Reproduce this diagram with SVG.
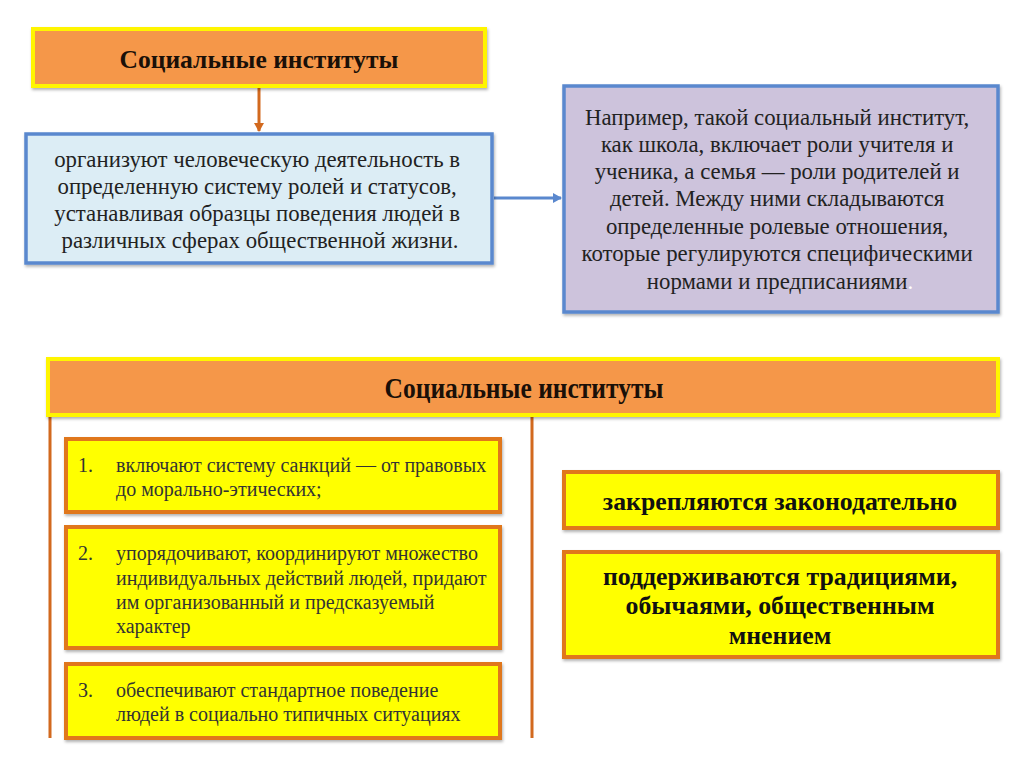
<svg xmlns="http://www.w3.org/2000/svg" width="1024" height="767" viewBox="0 0 1024 767">
<defs>
<style>
.hdr{fill:#F59748;stroke:#FFF500;stroke-width:4}
.blue{fill:#DCEDF5;stroke:#5A88CE;stroke-width:3.5}
.purple{fill:#CDC3DC;stroke:#5A88CE;stroke-width:3.5}
.yel{fill:#FFFF00;stroke:#E0771E;stroke-width:4}
.ht{font-family:"Liberation Serif",serif;font-weight:bold;font-size:25.5px;fill:#1a1008;text-anchor:middle}
.bt{font-family:"Liberation Serif",serif;font-size:22.8px;fill:#222;text-anchor:middle}
.lt{font-family:"Liberation Serif",serif;font-size:20px;fill:#333}
.rt{font-family:"Liberation Serif",serif;font-weight:bold;font-size:25.8px;fill:#111;text-anchor:middle}
.ol{stroke:#D2691E;stroke-width:3;fill:none}
.bl{stroke:#5A88CE;stroke-width:3;fill:none}
</style>
<filter id="sh" x="-5%" y="-10%" width="110%" height="130%">
<feDropShadow dx="1" dy="2" stdDeviation="1.5" flood-color="#000" flood-opacity="0.3"/>
</filter>
<marker id="ao" markerWidth="10" markerHeight="10" refX="8" refY="5" orient="auto" markerUnits="userSpaceOnUse">
<path d="M0,0 L9,5 L0,10 z" fill="#D2691E"/>
</marker>
<marker id="ab" markerWidth="10" markerHeight="10" refX="8" refY="5" orient="auto" markerUnits="userSpaceOnUse">
<path d="M0,0 L9,5 L0,10 z" fill="#5A88CE"/>
</marker>
</defs>
<rect width="1024" height="767" fill="#fff"/>

<g id="connectors">
<line class="ol" x1="259" y1="87" x2="259" y2="131" marker-end="url(#ao)"/>
<line class="bl" x1="494" y1="198" x2="561" y2="198" marker-end="url(#ab)"/>
<line class="ol" x1="50" y1="416" x2="50" y2="738"/>
<line class="ol" x1="532" y1="416" x2="532" y2="738"/>
</g>

<g id="header1">
<rect class="hdr" x="33" y="29" width="452" height="57" filter="url(#sh)"/>
<text class="ht" x="259" y="68">Социальные институты</text>
</g>

<g id="blue-box">
<rect class="blue" x="26" y="134" width="466" height="129" filter="url(#sh)"/>
<text class="bt">
<tspan x="260" y="167">организуют человеческую деятельность в</tspan>
<tspan x="260" y="194">определенную систему ролей и статусов,</tspan>
<tspan x="260" y="221">устанавливая образцы поведения людей в</tspan>
<tspan x="260" y="248">различных сферах общественной жизни.</tspan>
</text>
</g>

<g id="purple-box">
<rect class="purple" x="564" y="86" width="434" height="226" filter="url(#sh)"/>
<text class="bt">
<tspan x="780" y="125">Например, такой социальный институт,</tspan>
<tspan x="780" y="152">как школа, включает роли учителя и</tspan>
<tspan x="780" y="179">ученика, а семья — роли родителей и</tspan>
<tspan x="780" y="206">детей. Между ними складываются</tspan>
<tspan x="780" y="234">определенные ролевые отношения,</tspan>
<tspan x="780" y="261">которые регулируются специфическими</tspan>
<tspan x="780" y="289">нормами и предписаниями<tspan fill="#fff">.</tspan></tspan>
</text>
</g>

<g id="header2">
<rect class="hdr" x="48" y="359" width="950" height="56" filter="url(#sh)"/>
<text class="ht" x="524" y="398" transform="translate(524 0) scale(0.85 1) translate(-524 0)" style="font-size:30px">Социальные институты</text>
</g>

<g id="item1">
<rect class="yel" x="66" y="439" width="434" height="73" filter="url(#sh)"/>
<text class="lt"><tspan x="78" y="472">1.</tspan><tspan x="116" y="472">включают систему санкций — от правовых</tspan><tspan x="116" y="496">до морально-этических;</tspan></text>
</g>

<g id="item2">
<rect class="yel" x="66" y="527" width="434" height="121" filter="url(#sh)"/>
<text class="lt"><tspan x="78" y="560">2.</tspan><tspan x="116" y="560">упорядочивают, координируют множество</tspan><tspan x="116" y="585">индивидуальных действий людей, придают</tspan><tspan x="116" y="609">им организованный и предсказуемый</tspan><tspan x="116" y="633">характер</tspan></text>
</g>

<g id="item3">
<rect class="yel" x="66" y="664" width="434" height="74" filter="url(#sh)"/>
<text class="lt"><tspan x="78" y="697">3.</tspan><tspan x="116" y="697">обеспечивают стандартное поведение</tspan><tspan x="116" y="721">людей в социально типичных ситуациях</tspan></text>
</g>

<g id="box-law">
<rect class="yel" x="564" y="472" width="434" height="56" filter="url(#sh)"/>
<text class="rt" x="780" y="510">закрепляются законодательно</text>
</g>

<g id="box-tradition">
<rect class="yel" x="564" y="552" width="434" height="105" filter="url(#sh)"/>
<text class="rt"><tspan x="780" y="585">поддерживаются традициями,</tspan><tspan x="780" y="614">обычаями, общественным</tspan><tspan x="780" y="644">мнением</tspan></text>
</g>
</svg>
